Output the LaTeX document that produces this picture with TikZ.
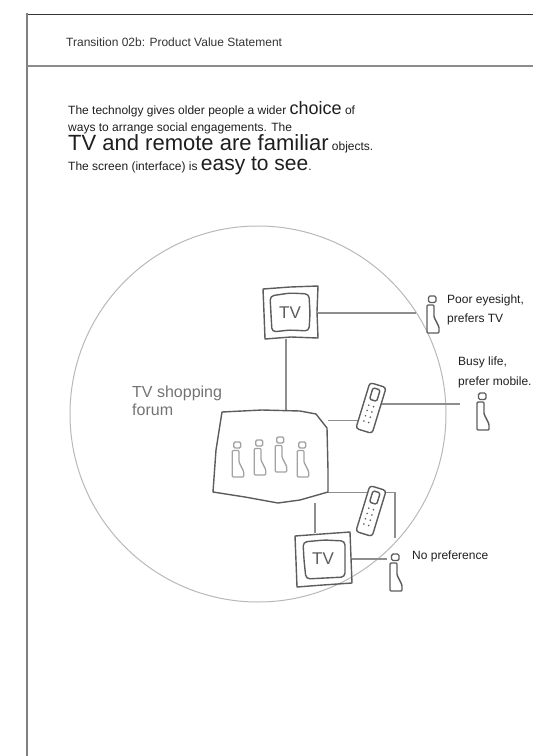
\documentclass[tikz,border=0pt]{standalone}
\usepackage{fontspec}
\setmainfont{Liberation Sans}
\usetikzlibrary{positioning,calc}
\definecolor{sketch}{HTML}{5C5C5C}
\definecolor{linegray}{HTML}{8E8E8E}
\definecolor{ringgray}{HTML}{B8B8B8}
\definecolor{crowdgray}{HTML}{A2A2A2}
\definecolor{textdark}{HTML}{1E1E1E}
\tikzstyle{line} = [draw, linegray, line width=1.1pt]
\tikzstyle{pen} = [sketch, line width=1.4pt, line join=round, line cap=round]
\tikzstyle{crowd} = [crowdgray, line width=1.3pt, line join=round, scale=0.95]
\tikzstyle{small} = [font=\fontsize{12}{14}\selectfont, text=textdark, inner sep=0pt]
\tikzstyle{tvset} = [inner sep=0pt, minimum width=55pt, minimum height=52pt, font=\fontsize{17}{17}\selectfont, text=sketch]
\tikzstyle{phone} = [inner sep=0pt, minimum width=20pt, minimum height=48pt]
\tikzstyle{person} = [inner sep=0pt, minimum width=12pt, minimum height=38pt]
\tikzset{
  figure/.pic={
    \draw[rounded corners=1.5pt] (-3.5,-18) rectangle (4,-11.5);
    \draw[rounded corners=1pt] (-5,-9) -- (2,-9) -- (2,3) -- (7,13) -- (7,19) -- (-5,19) -- (-5,3) -- cycle;
  },
  mobile/.pic={
    \draw[fill=white, rounded corners=3pt] (-8.5,-24) rectangle (8.5,24);
    \draw[rounded corners=1.5pt] (-4,-20) rectangle (3.5,-8);
    \foreach \r in {-2,3.5,9,14.5}
      \foreach \c in {-3,2}
        \fill (\c,\r) circle (0.9pt);
  }
}

\begin{document}
\begin{tikzpicture}[x=1pt,y=-1pt]
		\useasboundingbox (0,0) rectangle (533,756);
		%\draw[help lines] (0,0) grid (533,756);
		\draw[black!80, line width=0.8pt] (27,14) -- (533,14);
		\draw[black!50, line width=2pt] (27,13) -- (27,756);
		\draw[black!45, line width=1.8pt] (27,66) -- (533,66);
		\node[small, anchor=base west, text=black!80] (title) at (66,46) {Transition 02b: Product Value Statement};

		\node[small, anchor=base west] (s1) at (68,114) {The technolgy gives older people a wider {\fontsize{18}{18}\selectfont choice} of};
		\node[small, anchor=base west] (s2) at (68,131) {ways to arrange social engagements. The};
		\node[small, anchor=base west] (s3) at (68,150) {{\fontsize{22}{22}\selectfont TV and remote are familiar} objects.};
		\node[small, anchor=base west] (s4) at (68,170) {The screen (interface) is {\fontsize{21}{21}\selectfont easy to see}.};

		\draw[ringgray, line width=1pt] (258,414) circle (188pt);
		\node[font=\fontsize{16}{18}\selectfont, text=black!55, align=left, anchor=north west, inner sep=0pt] (forumtxt) at (132,386) {TV shopping\\forum};

		\node[tvset] (tv1) at (290,313) {TV};
		\node[tvset] (tv2) at (323,559) {TV};
		\node[phone] (ph1) at (371,408) {};
		\node[phone] (ph2) at (371,511) {};
		\node[person] (p1) at (432,314) {};
		\node[person] (p2) at (482,411) {};
		\node[person] (p3) at (395,572) {};
		\node[inner sep=0pt, minimum width=115pt, minimum height=92pt] (forum) at (270.5,457) {};

		\node[small, align=left, anchor=north west, font=\fontsize{12}{19}\selectfont] (p1txt) at (447,295) {Poor eyesight,\\prefers TV};
		\node[small, align=left, anchor=north west, font=\fontsize{12}{20}\selectfont] (p2txt) at (458,357) {Busy life,\\prefer mobile.};
		\node[small, anchor=base west] (p3txt) at (412,559) {No preference};

		\draw[line, shorten >=10pt] (tv1.east) -- (tv1.east -| p1.west);
		\draw[line] ([xshift=-4pt]tv1.south) -- ([xshift=-4pt]tv1.south |- forum.north);
		\draw[line] ([yshift=-10pt]forum.north east) -- ([yshift=-10pt]forum.north east -| ph1);
		\draw[line, shorten >=16pt] ([yshift=4pt]ph1.center) -- ([yshift=4pt]ph1.center -| p2.west);
		\draw[line, shorten >=15pt] ([yshift=11pt]forum.south east) -| (p3.north);
		\draw[line] ([xshift=-8pt]tv2.north |- forum.south) -- ([xshift=-8pt]tv2.north);
		\draw[line, shorten >=2pt] (tv2.east) -- (tv2.east -| p3.west);

		% forum screen
		\draw[pen] (222,412) -- (262,410) -- (300,411) -- (316,414) -- (327,428) -- (328,470) -- (328,492) -- (300,500) -- (278,503) -- (245,497) -- (213,492) -- (216,450) -- cycle;
		\foreach \x/\y in {237/459, 259/457, 280/454, 302/459}
			\pic[crowd] at (\x,\y) {figure};

		% tv sets
		\draw[pen] (263,289) -- (290,287) -- (318,286) -- (317,312) -- (318,338) -- (291,337) -- (265,339) -- (264,313) -- cycle;
		\draw[pen, rounded corners=4pt] (270,296) -- (290,293) -- (309,294) -- (310,314) -- (309,331) -- (290,330) -- (272,332) -- (271,314) -- cycle;
		\draw[pen] (295,536) -- (322,534) -- (350,532) -- (351,558) -- (352,583) -- (323,585) -- (297,587) -- (296,561) -- cycle;
		\draw[pen, rounded corners=4pt] (303,542) -- (324,540) -- (345,541) -- (345,560) -- (345,577) -- (325,578) -- (306,579) -- (304,560) -- cycle;

		% phones and people
		\pic[pen, rotate=-17] at (ph1) {mobile};
		\pic[pen, rotate=-17] at (ph2) {mobile};
		\pic[pen] at (p1) {figure};
		\pic[pen] at (p2) {figure};
		\pic[pen] at (p3) {figure};
\end{tikzpicture}
\end{document}
